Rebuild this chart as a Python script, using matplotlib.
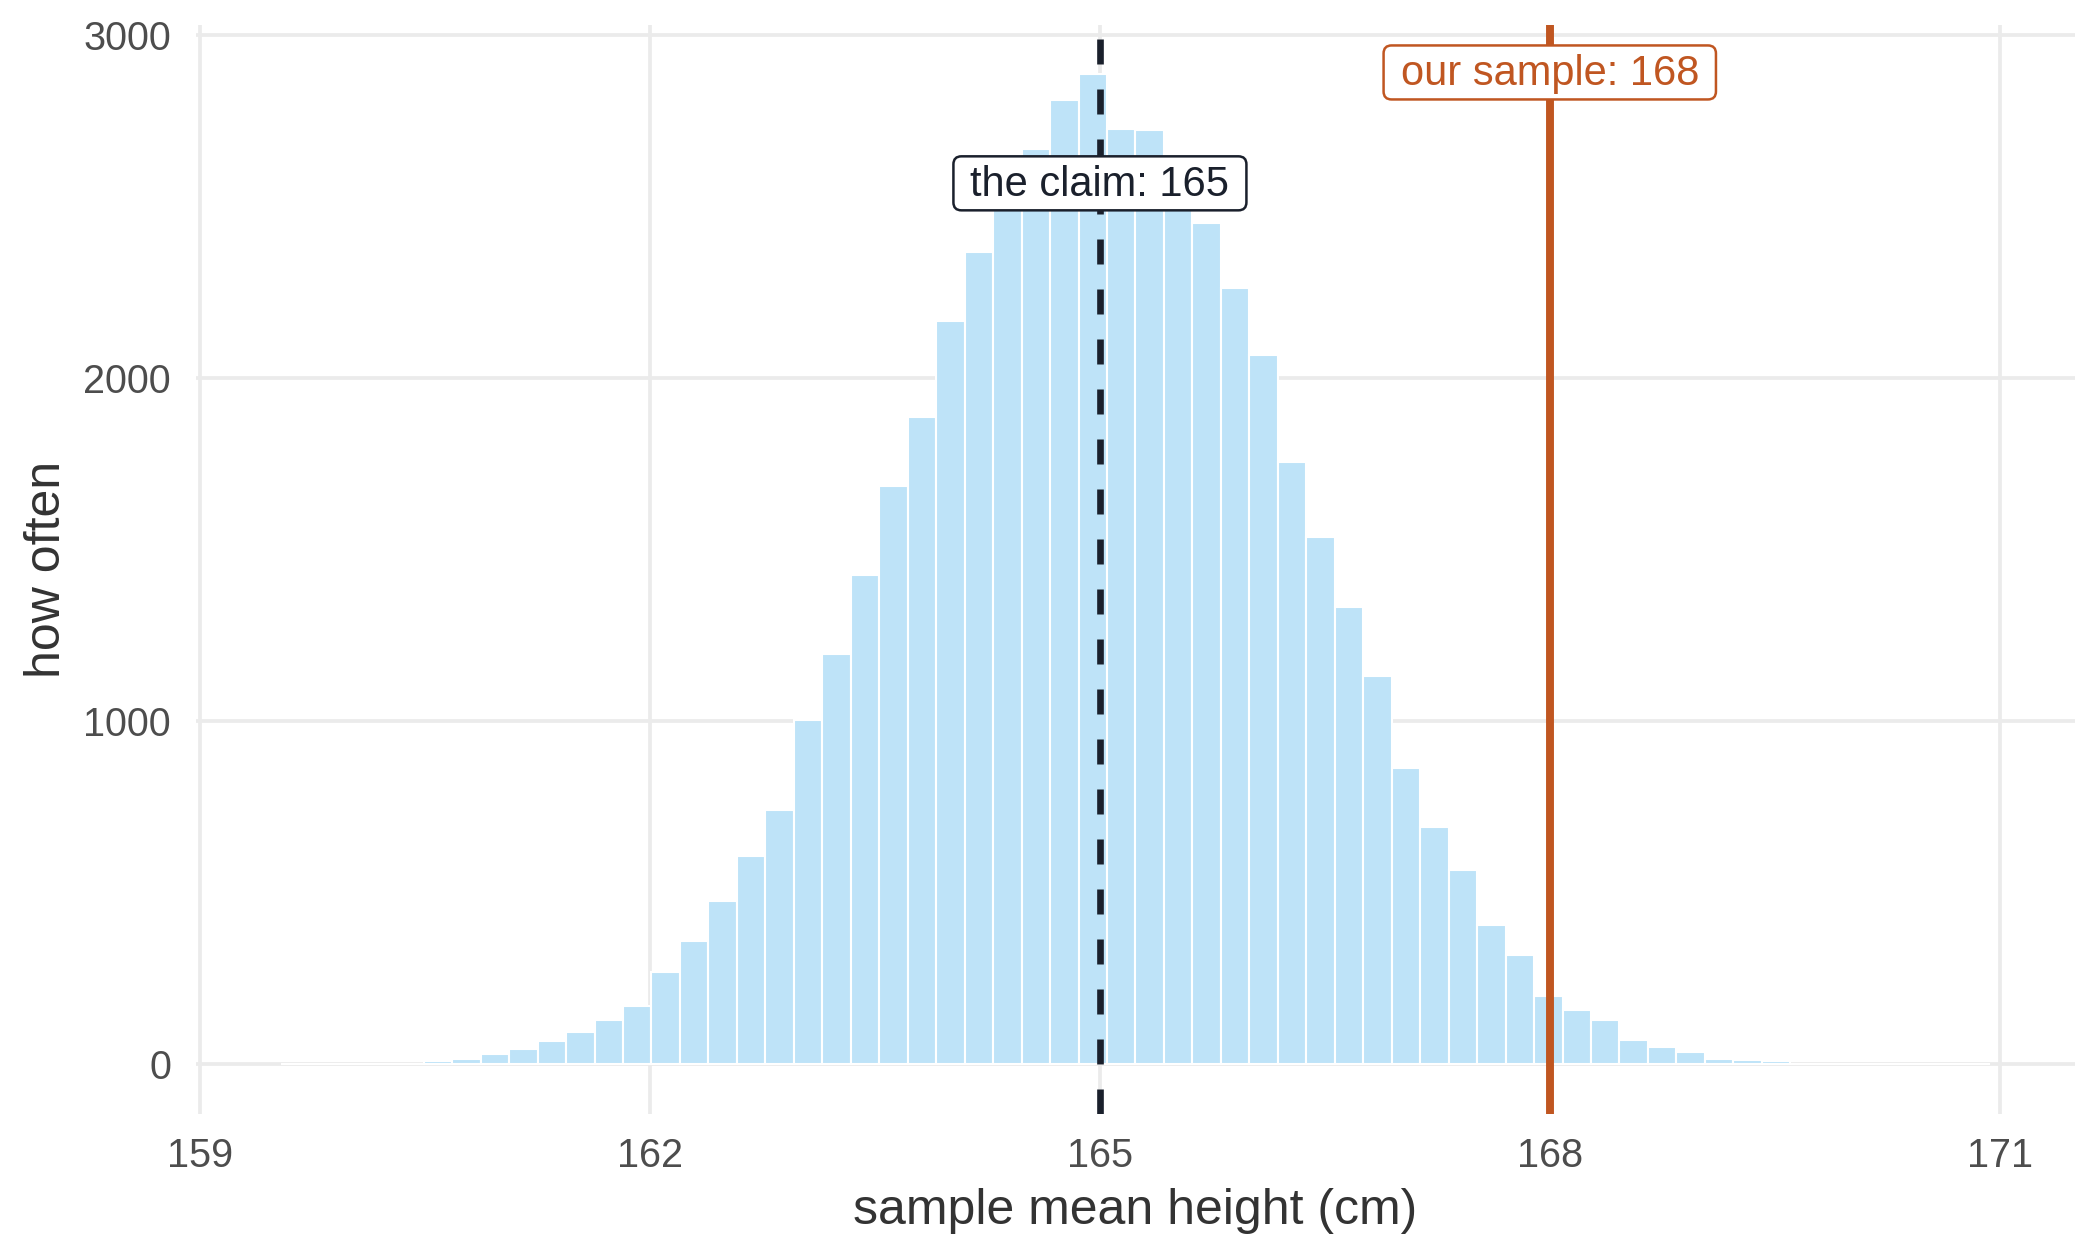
import numpy as np
import matplotlib
matplotlib.use("Agg")
import matplotlib.pyplot as plt
from matplotlib.patches import FancyBboxPatch
from matplotlib.transforms import IdentityTransform

# ---- data ----
bin_start = 159.541
bin_width = 0.18987
counts = [1, 1, 2, 1, 2, 10, 17, 30, 44, 68,
          96, 131, 170, 270, 361, 476, 609, 741, 1004, 1198,
          1426, 1686, 1887, 2167, 2368, 2520, 2670, 2811, 2886, 2726,
          2723, 2590, 2452, 2263, 2068, 1757, 1538, 1333, 1131, 863,
          691, 566, 407, 318, 200, 158, 129, 72, 50, 35,
          16, 14, 9, 2, 2, 2, 1, 2, 2, 1]
claim_value = 165
sample_value = 168
claim_label = "the claim: 165"
sample_label = "our sample: 168"
x_ticks = [159, 162, 165, 168, 171]
y_ticks = [0, 1000, 2000, 3000]

# ---- colours ----
bar_fill = "#BEE3F8"
claim_col = "#1A202C"
sample_col = "#C05621"
grid_col = "#EBEBEB"

plt.rcParams["font.family"] = ["Liberation Sans", "DejaVu Sans"]

fig = plt.figure(figsize=(7, 4.2), dpi=300)
ax = fig.add_axes([0.0933, 0.1159, 0.8948, 0.8643])

counts = np.asarray(counts)
edges = bin_start + bin_width * np.arange(len(counts))
ax.bar(edges, counts, width=bin_width, align="edge", color=bar_fill,
       edgecolor="white", linewidth=0.5, zorder=2)

# reference lines
ax.axvline(claim_value, color=claim_col, linewidth=1.6,
           linestyle=(0, (3.75, 3.75)), zorder=3)
ax.axvline(sample_value, color=sample_col, linewidth=1.9, zorder=3)

# labels (text first, box drawn around it afterwards)
ymax = counts.max()
t_claim = ax.text(claim_value, ymax * 0.888, claim_label, ha="center",
                  va="center", fontsize=10, color=claim_col, zorder=5)
t_sample = ax.text(sample_value, ymax, sample_label, ha="center",
                   va="center", fontsize=10, color=sample_col, zorder=5)

# limits with ggplot-like 5% expansion
x_lo, x_hi = edges[0], edges[-1] + bin_width
span = x_hi - x_lo
ax.set_xlim(x_lo - 0.05 * span, x_hi + 0.05 * span)
ax.set_ylim(-0.05 * ymax, 1.05 * ymax)

ax.set_xticks(x_ticks)
ax.set_yticks(y_ticks)
ax.tick_params(length=0, labelsize=9.5, labelcolor="#4D4D4D")
ax.tick_params(axis="x", pad=5.5)
ax.tick_params(axis="y", pad=6)

ax.grid(True, color=grid_col, linewidth=0.9, zorder=0)
ax.set_axisbelow(True)
for s in ax.spines.values():
    s.set_visible(False)

ax.set_xlabel("sample mean height (cm)", fontsize=12, color="#333333", va="center")
ax.set_ylabel("how often", fontsize=12, color="#333333", va="center")
ax.xaxis.set_label_coords(0.5, -0.0895)
ax.yaxis.set_label_coords(-0.0793, 0.5)

# rounded label boxes in pixel space (wider than tall padding)
fig.canvas.draw()
rend = fig.canvas.get_renderer()
for t, col in ((t_claim, claim_col), (t_sample, sample_col)):
    bb = t.get_window_extent(renderer=rend)
    cx, cy = (bb.x0 + bb.x1) / 2, (bb.y0 + bb.y1) / 2 + 2
    w, h = bb.width + 34, 54
    ax.add_patch(FancyBboxPatch((cx - w / 2, cy - h / 2), w, h,
                                boxstyle="round,pad=0,rounding_size=8",
                                facecolor="white", edgecolor=col,
                                linewidth=0.6, transform=IdentityTransform(),
                                clip_on=False, zorder=4))

fig.savefig("out.png", dpi=300, facecolor="white")
